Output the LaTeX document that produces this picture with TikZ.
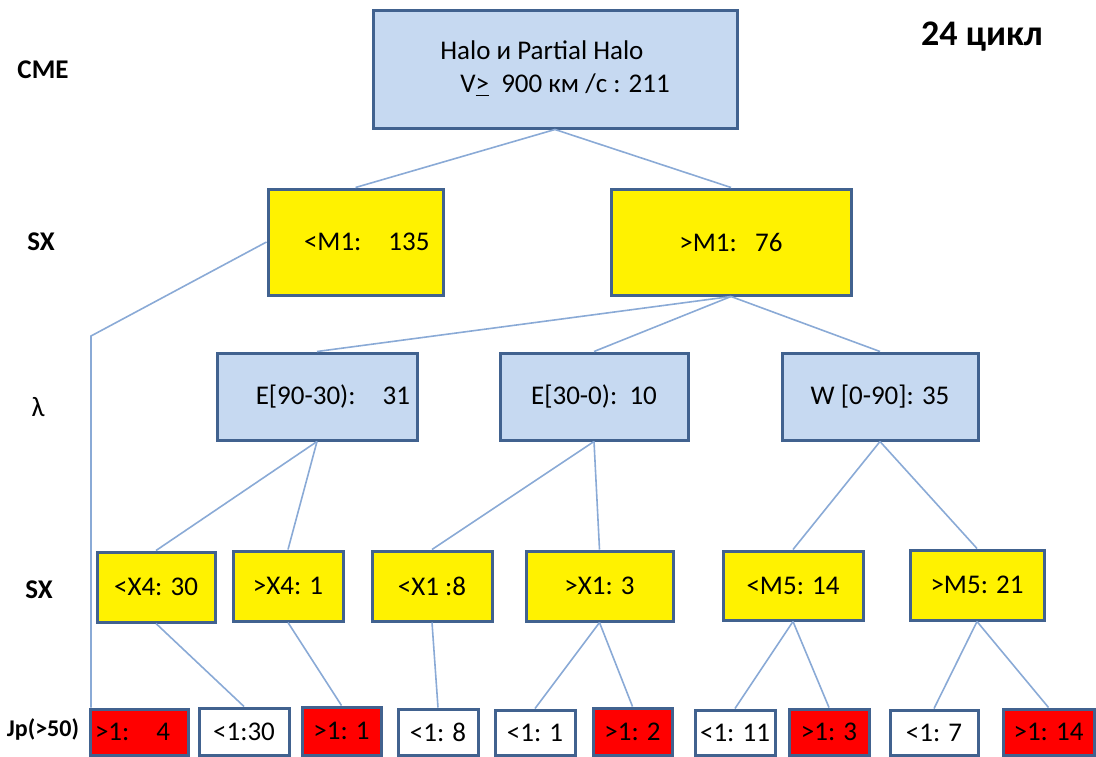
\documentclass[tikz,border=0pt]{standalone}
\usepackage{fontspec}
\setmainfont{Carlito}
\definecolor{boxblue}{HTML}{C6D9F1}
\definecolor{edgeblue}{HTML}{41628F}
\definecolor{wireblue}{HTML}{8AAAD6}
\tikzset{
  box/.style={draw=edgeblue,line width=1.5pt,inner sep=2pt,font=\fontsize{13.5}{16.5}\selectfont},
  cmebox/.style={box,fill=boxblue},
  sxbox/.style={box,fill=yellow},
  lambdabox/.style={box,fill=boxblue},
  lowbox/.style={box,fill=white},
  highbox/.style={box,fill=red},
  wire/.style={wireblue,line width=0.8pt},
  rowlabel/.style={font=\fontsize{13.5}{15}\selectfont\bfseries}
}
\begin{document}
\begin{tikzpicture}[x=0.5pt,y=-0.5pt]
\useasboundingbox (0,0) rectangle (1096,756);

% row labels
\node[rowlabel] (cme) at (43,70) {CME};
\node[rowlabel] (sxa) at (41,242) {SX};
\node[font=\fontsize{14}{16}\selectfont] (lam) at (38,407) {λ};
\node[rowlabel] (sxb) at (39,590) {SX};
\node[font=\fontsize{12}{14}\selectfont\bfseries] (jp) at (43,729) {Jp(>50)};
\node[font=\fontsize{18}{20}\selectfont\bfseries] (cycle) at (982,37) {24 цикл};

% CME
\node[cmebox,minimum width=182pt,minimum height=59pt,align=left] (top) at (555,69)
  {Halo и Partial Halo\\\hspace*{10pt}V\underline{>}\ \ 900 км /с : 211};

% SX, first split
\node[sxbox,minimum width=87.5pt,minimum height=53pt,text width=74pt,inner xsep=6.75pt,align=right] (mlow) at (355.5,242) {<M1:\ \ \ 135};
\node[sxbox,minimum width=120pt,minimum height=53pt] (mhigh) at (731,242) {>M1:\ \ \ 76};

% lambda
\node[lambdabox,minimum width=100pt,minimum height=43.5pt,text width=93pt,inner xsep=3.5pt,align=right] (east) at (317,396.5) {E[90-30):\ \ \ 31};
\node[lambdabox,minimum width=94pt,minimum height=43.5pt] (centre) at (594,396.5) {E[30-0):\ \ 10};
\node[lambdabox,minimum width=98pt,minimum height=43.5pt] (west) at (880,396.5) {W [0-90]: 35};

% SX, second split
\node[sxbox,minimum width=59pt,minimum height=35pt] (xfourlo) at (156,587) {<X4: 30};
\node[sxbox,minimum width=55pt,minimum height=35pt] (xfourhi) at (288,586) {>X4: 1};
\node[sxbox,minimum width=60pt,minimum height=35pt] (xonelo) at (432,586) {<X1 :8};
\node[sxbox,minimum width=73.5pt,minimum height=35pt] (xonehi) at (599.5,586) {>X1: 3};
\node[sxbox,minimum width=70pt,minimum height=34.5pt] (mfivelo) at (793,585.5) {<M5: 14};
\node[sxbox,minimum width=67pt,minimum height=35pt] (mfivehi) at (977,585) {>M5: 21};

% Jp(>50)
\node[highbox,minimum width=49pt,minimum height=23pt,text width=44pt,inner xsep=2.5pt,align=left] (p1) at (139,732) {>1:\ \ \ 4};
\node[lowbox,minimum width=45pt,minimum height=23.5pt] (p2) at (244,731.5) {<1:30};
\node[highbox,minimum width=39.5pt,minimum height=24pt] (p3) at (341.5,731) {>1: 1};
\node[lowbox,minimum width=40pt,minimum height=23pt] (p4) at (438,732) {<1: 8};
\node[lowbox,minimum width=40pt,minimum height=22.5pt] (p5) at (535,732.5) {<1: 1};
\node[highbox,minimum width=39.5pt,minimum height=23.5pt] (p6) at (632.5,731.5) {>1: 2};
\node[lowbox,minimum width=40pt,minimum height=22.5pt] (p7) at (735,732.5) {<1: 11};
\node[highbox,minimum width=40pt,minimum height=23pt] (p8) at (829,732) {>1: 3};
\node[lowbox,minimum width=44pt,minimum height=22.5pt] (p9) at (934,732.5) {<1: 7};
\node[highbox,minimum width=45.5pt,minimum height=23pt] (p10) at (1048.5,732) {>1: 14};

% connectors
\coordinate (bend) at (91,336);
\draw[wire] (top.south) -- (mlow.north);
\draw[wire] (top.south) -- (mhigh.north);
\draw[wire] (mlow.west) -- (bend) -- (bend |- p1.north);
\draw[wire] (mhigh.south) -- (east.north);
\draw[wire] (mhigh.south) -- (centre.north);
\draw[wire] (mhigh.south) -- (west.north);
\draw[wire] (east.south) -- (xfourlo.north);
\draw[wire] (east.south) -- (xfourhi.north);
\draw[wire] (centre.south) -- (xonelo.north);
\draw[wire] (centre.south) -- (xonehi.north);
\draw[wire] (west.south) -- (mfivelo.north);
\draw[wire] (west.south) -- (mfivehi.north);
\draw[wire] (xfourlo.south) -- (p2.north);
\draw[wire] (xfourhi.south) -- (p3.north);
\draw[wire] (xonelo.south) -- (p4.north);
\draw[wire] (xonehi.south) -- (p5.north);
\draw[wire] (xonehi.south) -- (p6.north);
\draw[wire] (mfivelo.south) -- (p7.north);
\draw[wire] (mfivelo.south) -- (p8.north);
\draw[wire] (mfivehi.south) -- (p9.north);
\draw[wire] (mfivehi.south) -- (p10.north);
\end{tikzpicture}
\end{document}
